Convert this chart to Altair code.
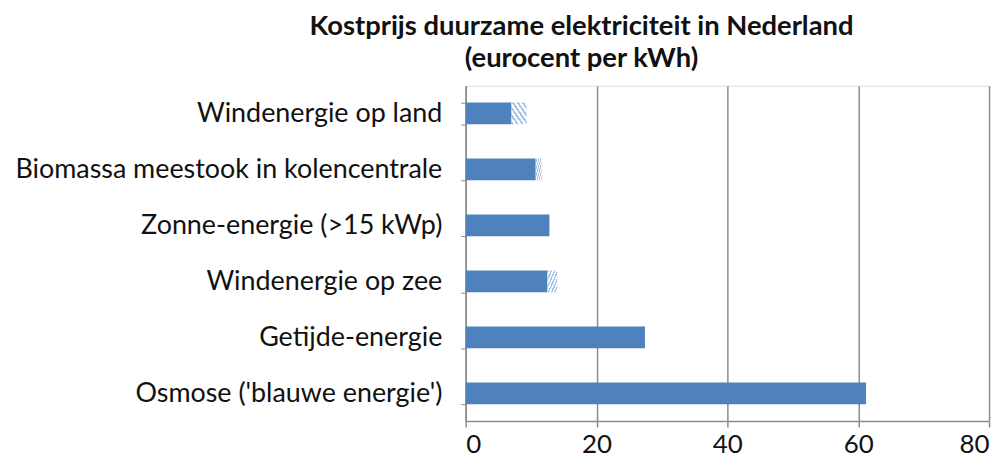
import altair as alt
import pandas as pd

categories = [
    "Windenergie op land",
    "Biomassa meestook in kolencentrale",
    "Zonne-energie (>15 kWp)",
    "Windenergie op zee",
    "Getijde-energie",
    "Osmose ('blauwe energie')",
]
low_values = [7.0, 10.7, 12.8, 12.5, 27.4, 61.2]
high_values = [9.3, 11.6, 12.8, 14.0, 27.4, 61.2]
hatch_dir = ["back", "back", "none", "fwd", "none", "none"]
x_ticks = [0, 20, 40, 60, 80]

df = pd.DataFrame({
    "cat": categories,
    "low": low_values,
    "high": high_values,
    "dir": hatch_dir,
})

FONT = "Lato"
BLUE = "#4f81bd"
HATCH = "#a9c4e6"
GRID = "#8c8c8c"


def stripes(n):
    stops = []
    for i in range(n):
        a = i / n
        b = (i + 0.5) / n
        c = (i + 1) / n
        stops.append(alt.GradientStop(offset=a, color=HATCH))
        stops.append(alt.GradientStop(offset=b, color=HATCH))
        stops.append(alt.GradientStop(offset=b, color="white"))
        stops.append(alt.GradientStop(offset=c, color="white"))
    return stops


y_enc = alt.Y(
    "cat:N",
    sort=categories,
    title=None,
    scale=alt.Scale(paddingInner=0.61, paddingOuter=0.3),
    axis=alt.Axis(
        labelFont=FONT,
        labelFontSize=27,
        labelColor="#111111",
        labelPadding=19,
        labelLimit=600,
        tickBand="extent",
        tickSize=5,
        tickColor=GRID,
        domainColor=GRID,
        domainWidth=1.5,
        minExtent=460,
        maxExtent=460,
        grid=False,
    ),
)

x_scale = alt.Scale(domain=[0, 80], nice=False)
x_axis = alt.Axis(
    values=x_ticks,
    labelFont=FONT,
    labelFontSize=26,
    labelColor="#111111",
    labelPadding=5,
    tickSize=6,
    tickColor=GRID,
    tickWidth=1.5,
    domainColor=GRID,
    domainWidth=1.5,
    grid=True,
    gridColor=GRID,
    gridWidth=1.5,
    title=None,
)

base = alt.Chart(df)

solid = base.mark_bar(color=BLUE).encode(
    y=y_enc,
    x=alt.X("low:Q", scale=x_scale, axis=x_axis),
)

hatch_back = base.transform_filter(alt.datum.dir == "back").mark_bar(
    color=alt.LinearGradient(gradient="linear", x1=0, y1=1, x2=1, y2=0, stops=stripes(6))
).encode(
    y=alt.Y("cat:N", sort=categories),
    x=alt.X("low:Q"),
    x2="high:Q",
)

hatch_fwd = base.transform_filter(alt.datum.dir == "fwd").mark_bar(
    color=alt.LinearGradient(gradient="linear", x1=0, y1=0, x2=1, y2=1, stops=stripes(6))
).encode(
    y=alt.Y("cat:N", sort=categories),
    x=alt.X("low:Q"),
    x2="high:Q",
)

chart = alt.layer(solid, hatch_back, hatch_fwd).properties(
    width=526,
    height=337,
    padding={"left": 0, "top": 3, "right": 10, "bottom": 0},
    title=alt.TitleParams(
        text=["Kostprijs duurzame elektriciteit in Nederland", "(eurocent per kWh)"],
        font=FONT,
        fontSize=27.5,
        fontWeight="bold",
        color="#111111",
        lineHeight=33,
        anchor="middle",
        frame="bounds",
        dx=83,
        offset=-1,
    ),
).configure_view(stroke=None).configure(background="white")

chart.save("out.html", embed_options={"renderer": "svg", "actions": False})
